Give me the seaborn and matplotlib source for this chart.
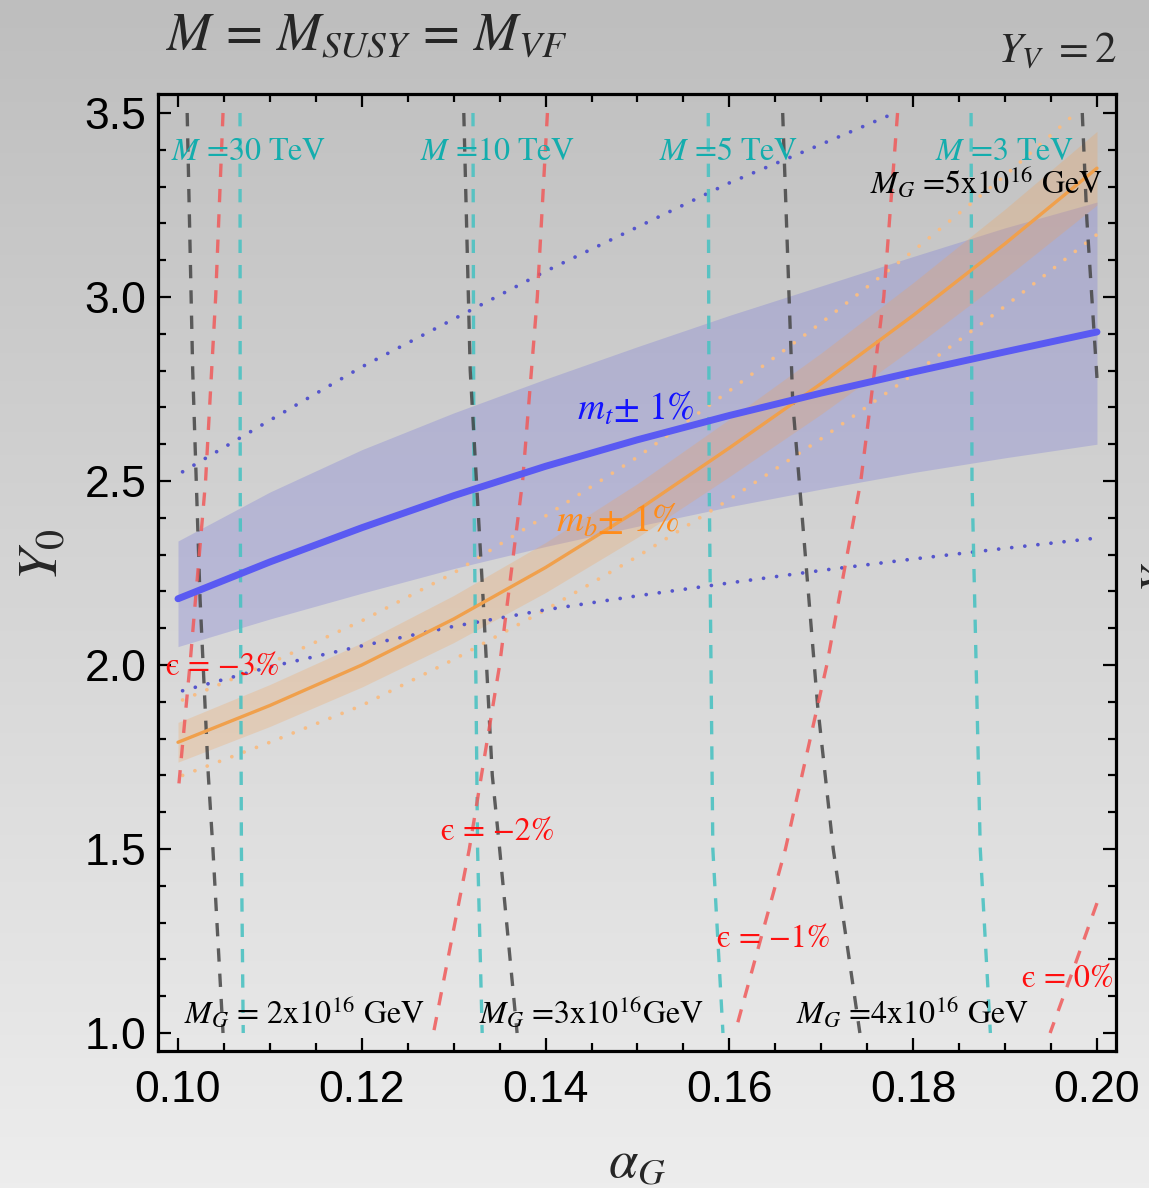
import numpy as np
import matplotlib
matplotlib.use("Agg")
import matplotlib.pyplot as plt
from matplotlib.colors import LinearSegmentedColormap
from matplotlib.ticker import MultipleLocator
import seaborn as sns

sns.set_theme(style="ticks")
plt.rcParams["font.family"] = ["Liberation Sans", "DejaVu Sans"]
plt.rcParams["mathtext.fontset"] = "stix"

# ---- m_t and m_b fits along alpha_G -------------------------------------
alpha_grid = [0.10, 0.11, 0.12, 0.13, 0.14, 0.15, 0.16, 0.17, 0.18, 0.19, 0.20]
mt_central = [2.18, 2.28, 2.373, 2.46, 2.54, 2.612, 2.678, 2.739, 2.796, 2.851, 2.905]
mt_upper = [2.337, 2.47, 2.585, 2.685, 2.777, 2.865, 2.95, 3.03, 3.11, 3.188, 3.258]
mt_lower = [2.05, 2.125, 2.195, 2.262, 2.322, 2.377, 2.43, 2.478, 2.523, 2.563, 2.60]
mb_central = [1.79, 1.89, 2.00, 2.125, 2.265, 2.42, 2.59, 2.765, 2.95, 3.145, 3.35]
mb_upper = [1.844, 1.947, 2.06, 2.189, 2.333, 2.493, 2.668, 2.848, 3.039, 3.239, 3.45]
mb_lower = [1.736, 1.833, 1.94, 2.061, 2.197, 2.347, 2.512, 2.682, 2.862, 3.051, 3.25]

# dotted contours
mt_dot_hi_x = [0.1005, 0.11, 0.12, 0.13, 0.14, 0.15, 0.16, 0.17, 0.178]
mt_dot_hi_y = [2.525, 2.665, 2.81, 2.94, 3.07, 3.19, 3.31, 3.415, 3.50]
mt_dot_lo_x = [0.1005, 0.11, 0.12, 0.13, 0.14, 0.15, 0.16, 0.17, 0.18, 0.19, 0.20]
mt_dot_lo_y = [1.93, 1.995, 2.052, 2.105, 2.15, 2.188, 2.223, 2.257, 2.288, 2.317, 2.345]
mb_dot_hi_x = [0.1005, 0.11, 0.12, 0.13, 0.14, 0.15, 0.16, 0.17, 0.18, 0.19, 0.1977]
mb_dot_hi_y = [1.905, 2.005, 2.12, 2.25, 2.405, 2.565, 2.745, 2.93, 3.125, 3.33, 3.50]
mb_dot_lo_x = [0.1005, 0.11, 0.12, 0.13, 0.14, 0.15, 0.16, 0.17, 0.18, 0.19, 0.20]
mb_dot_lo_y = [1.70, 1.79, 1.89, 2.015, 2.15, 2.295, 2.45, 2.615, 2.79, 2.975, 3.17]

# ---- M = const contours (cyan) -------------------------------------------
m_levels_y = [3.5, 2.5, 1.5, 1.0]
m30_x = [0.10675, 0.10677, 0.10690, 0.10710]
m10_x = [0.1321, 0.1322, 0.1326, 0.1331]
m5_x = [0.1577, 0.1578, 0.1582, 0.1593]
m3_x = [0.1863, 0.1864, 0.1873, 0.1884]

# ---- M_G = const contours (grey) -----------------------------------------
mg2_y = [3.5, 2.8, 2.18, 1.7, 1.5, 1.0]
mg2_x = [0.1010, 0.1016, 0.1024, 0.1033, 0.1038, 0.1049]
mg3_y = [3.5, 2.8, 2.18, 1.7, 1.5, 1.0]
mg3_x = [0.1311, 0.1318, 0.1332, 0.1342, 0.1350, 0.1369]
mg4_y = [3.5, 2.71, 2.47, 1.89, 1.5, 1.0]
mg4_x = [0.1658, 0.1669, 0.1677, 0.1696, 0.1713, 0.1742]
mg5_y = [3.5, 3.21, 2.78]
mg5_x = [0.1984, 0.1989, 0.2000]

# ---- epsilon = const contours (red) --------------------------------------
eps3_y = [3.5, 3.0, 2.5, 2.0, 1.65]
eps3_x = [0.1049, 0.1041, 0.1030, 0.1013, 0.1000]
eps2_y = [3.5, 3.0, 2.5, 2.0, 1.5, 1.0]
eps2_x = [0.1402, 0.1391, 0.1375, 0.1350, 0.1317, 0.1278]
eps1_y = [3.5, 3.0, 2.5, 2.0, 1.5, 1.0]
eps1_x = [0.1783, 0.1768, 0.1743, 0.1706, 0.1661, 0.1606]
eps0_y = [1.353, 1.171, 1.0]
eps0_x = [0.2000, 0.1974, 0.1949]

x_ticks = [0.10, 0.12, 0.14, 0.16, 0.18, 0.20]
x_ticklabels = ["0.10", "0.12", "0.14", "0.16", "0.18", "0.20"]
y_ticks = [1.0, 1.5, 2.0, 2.5, 3.0, 3.5]
y_ticklabels = ["1.0", "1.5", "2.0", "2.5", "3.0", "3.5"]

W, H = 1149, 1188
fig = plt.figure(figsize=(W / 100, H / 100), dpi=100)

# grey vertical gradient behind everything
bg = fig.add_axes([0, 0, 1, 1], zorder=-10)
grad = np.linspace(0, 1, 256)[:, None]
bg.imshow(grad, cmap=LinearSegmentedColormap.from_list("bg", ["#bebebe", "#ededed"]),
          aspect="auto", extent=[0, 1, 0, 1], origin="upper")
bg.axis("off")

ax = fig.add_axes([157.5 / W, 1 - 1051 / H, (1116 - 157.5) / W, (1051 - 94) / H])
ax.patch.set_visible(False)

# bands
ax.fill_between(alpha_grid, mt_lower, mt_upper, color="#7676d8", alpha=0.30, lw=0, zorder=1)
ax.fill_between(alpha_grid, mb_lower, mb_upper, color="#f5a050", alpha=0.25, lw=0, zorder=1.1)

dot_kw = dict(sort=False, estimator=None, dash_capstyle="round", legend=False)
sns.lineplot(x=mb_dot_hi_x, y=mb_dot_hi_y, ax=ax, color="#f6bd86", lw=2.7,
             linestyle=(0, (0.01, 3.5)), zorder=2, **dot_kw)
sns.lineplot(x=mb_dot_lo_x, y=mb_dot_lo_y, ax=ax, color="#f6bd86", lw=2.7,
             linestyle=(0, (0.01, 3.5)), zorder=2, **dot_kw)
sns.lineplot(x=mt_dot_hi_x, y=mt_dot_hi_y, ax=ax, color="#5555cc", lw=2.7,
             linestyle=(0, (0.01, 3.5)), zorder=2, **dot_kw)
sns.lineplot(x=mt_dot_lo_x, y=mt_dot_lo_y, ax=ax, color="#5555cc", lw=2.7,
             linestyle=(0, (0.01, 3.5)), zorder=2, **dot_kw)

dash_kw = dict(sort=False, estimator=None, orient="y", legend=False,
               linestyle=(0, (4.0, 3.6)), lw=2.4)
for xs in (m30_x, m10_x, m5_x, m3_x):
    sns.lineplot(x=xs, y=m_levels_y, ax=ax, color="#4cc2c2", alpha=0.9, zorder=3, **dash_kw)
for xs, ys in ((mg2_x, mg2_y), (mg3_x, mg3_y), (mg4_x, mg4_y), (mg5_x, mg5_y)):
    sns.lineplot(x=xs, y=ys, ax=ax, color="#454545", alpha=0.85, zorder=3, **dash_kw)
for xs, ys in ((eps3_x, eps3_y), (eps2_x, eps2_y), (eps1_x, eps1_y), (eps0_x, eps0_y)):
    sns.lineplot(x=xs, y=ys, ax=ax, color="#f05a5a", alpha=0.85, zorder=3, **dash_kw)

# central fits
sns.lineplot(x=alpha_grid, y=mb_central, ax=ax, color="#f0a04c", lw=2.4, zorder=4,
             sort=False, estimator=None, legend=False)
sns.lineplot(x=alpha_grid, y=mt_central, ax=ax, color="#5a5af2", lw=5.0, zorder=4,
             sort=False, estimator=None, legend=False)

ax.set_xlim(0.09777, 0.20207)
ax.set_ylim(0.9511, 3.5516)
ax.set_xticks(x_ticks, x_ticklabels)
ax.set_yticks(y_ticks, y_ticklabels)
ax.xaxis.set_minor_locator(MultipleLocator(0.005))
ax.yaxis.set_minor_locator(MultipleLocator(0.1))
ax.tick_params(which="both", direction="in", top=True, right=True, colors="black",
               width=1.6, labelsize=32)
ax.tick_params(which="major", length=9.5)
ax.tick_params(which="minor", length=5.5)
ax.tick_params(axis="x", pad=14)
ax.tick_params(axis="y", pad=8)
for s in ax.spines.values():
    s.set_linewidth(2.3)
    s.set_color("black")
ax.set_xlabel("")
ax.set_ylabel("")

serif = "STIXGeneral"
lab = 23
cyan = "#14adad"
for xc, txt in ((0.10773, "$M$ =30 TeV"), (0.13482, "$M$ =10 TeV"),
                (0.15990, "$M$ =5 TeV"), (0.18994, "$M$ =3 TeV")):
    ax.text(xc, 3.372, txt, color=cyan, fontsize=lab, family=serif,
            ha="center", va="baseline", zorder=6)

ax.text(0.18798, 3.283, "$M_G$ =5x10$^{16}$ GeV", color="black", fontsize=lab,
        family=serif, ha="center", va="baseline", zorder=6)
for xc, txt in ((0.11371, "$M_G$ = 2x10$^{16}$ GeV"), (0.14500, "$M_G$ =3x10$^{16}$GeV"),
                (0.17987, "$M_G$ =4x10$^{16}$ GeV")):
    ax.text(xc, 1.027, txt, color="black", fontsize=lab, family=serif,
            ha="center", va="baseline", zorder=6)

for xc, yb, txt in ((0.10484, 1.973, "\u03f5 = \u22123%"),
                    (0.13482, 1.524, "\u03f5 = \u22122%"),
                    (0.16485, 1.234, "\u03f5 = \u22121%"),
                    (0.19685, 1.125, "\u03f5 = 0%")):
    ax.text(xc, yb, txt, color="#ff1010", fontsize=lab, family=serif,
            ha="center", va="baseline", zorder=6)

ax.text(0.14984, 2.666, "$m_t$\u00b1 1%", color="#1414ff", fontsize=27, family=serif,
        ha="center", va="baseline", zorder=6)
ax.text(0.14782, 2.361, "$m_b$\u00b1 1%", color="#ff8c1a", fontsize=27, family=serif,
        ha="center", va="baseline", zorder=6)

fig.text(166 / W, 1 - 50 / H, r"$M\,=\,M_{SUSY}\,=\,M_{VF}$", fontsize=38.5,
         ha="left", va="baseline")
fig.text(998 / W, 1 - 63 / H, r"$Y_V\ = 2$", fontsize=31, ha="left", va="baseline")
fig.text(42 / W, 1 - 555 / H, r"$Y_0$", fontsize=41, rotation=90, ha="center", va="center")
fig.text(637 / W, 1 - 1163 / H, r"$\alpha_G$", fontsize=38, ha="center", va="center")
fig.text(1160 / W, 1 - 577 / H, r"$Y$", fontsize=33, rotation=90, ha="center", va="center")

fig.savefig("out.png", dpi=100)
